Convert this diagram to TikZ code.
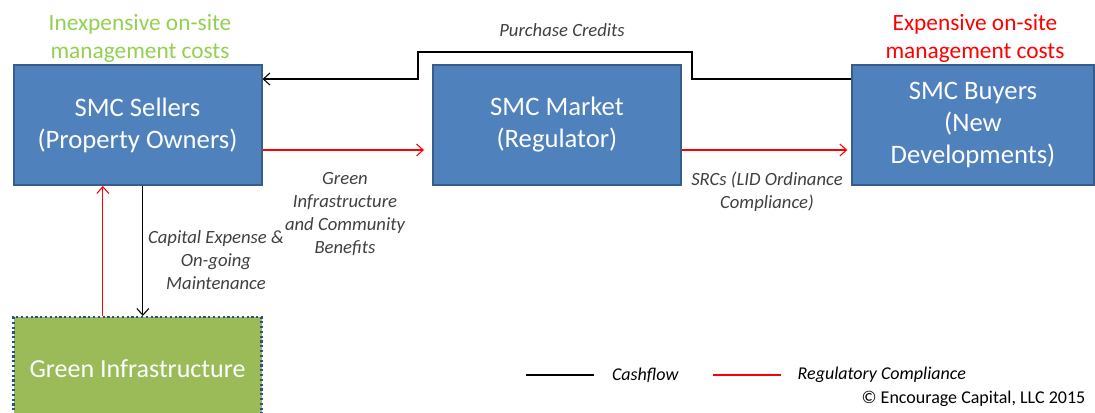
\documentclass[tikz,border=0pt]{standalone}
\usepackage{fontspec}
\setmainfont{Carlito}
\usepackage{tikz}
\usetikzlibrary{arrows,arrows.meta,shapes,positioning}

\definecolor{boxblue}{HTML}{4F81BD}
\definecolor{boxedge}{HTML}{385D8A}
\definecolor{gifill}{HTML}{9BBB59}
\definecolor{giedge}{HTML}{2E4F8C}
\definecolor{cheap}{HTML}{92D050}
\definecolor{labgray}{HTML}{404040}

\begin{document}
\begin{tikzpicture}[x=0.75pt, y=-0.75pt, node distance=2cm, auto]

\tikzstyle{block} = [rectangle, draw=boxedge, line width=1.5pt, fill=boxblue,
    text=white, align=center, minimum width=186pt, minimum height=90pt,
    font=\fontsize{20}{24}\selectfont]
\tikzstyle{gibox} = [rectangle, draw=giedge, line width=1.6pt, dotted, fill=gifill,
    text=white, minimum width=186pt, minimum height=78pt,
    font=\fontsize{19.5}{24}\selectfont]
\tikzstyle{note} = [align=center, text=labgray, font=\fontsize{14}{17.25}\selectfont\itshape]
\tikzstyle{head} = [align=center, font=\fontsize{17.5}{21}\selectfont]
\tikzstyle{cash} = [draw, black, line width=0.8pt, -{Straight Barb[length=5pt,width=9pt]}]
\tikzstyle{rule} = [draw, red, line width=0.8pt, -{Straight Barb[length=5pt,width=9pt]}]

\useasboundingbox (0,0) rectangle (1095,413);

    % Place nodes
    \node [block] (sellers) at (137.5,125) {SMC Sellers\\(Property Owners)};
    \node [block, right of=sellers, node distance=314.6pt] (market) {SMC Market\\(Regulator)};
    \node [block, right of=market, node distance=312pt, minimum width=181pt] (buyers) {SMC Buyers\\(New\\Developments)};
    \node [gibox] (gi) at (137.5,369) {Green Infrastructure};
    \node [head, text=cheap] (cheaplab) at (140,38) {Inexpensive on-site\\management costs};
    \node [head, text=red] (dearlab) at (975,38) {Expensive on-site\\management costs};
    \node [note] (credits) at (562,30) {Purchase Credits};
    \node [note] (benefits) at (345,214) {Green\\Infrastructure\\and Community\\Benefits};
    \node [note] (srcs) at (767,192) {SRCs (LID Ordinance\\Compliance)};
    \node [note] (capex) at (216,260) {Capital Expense \&\\On-going\\Maintenance};
    \coordinate (up1) at (692,52);
    \coordinate (up2) at (418,52);

    % Draw edges
    \path [cash] ([yshift=-11.25pt]buyers.north west) -| (up1) -| (up2)
        |- ([yshift=-11.25pt]sellers.north east);
    \path [rule, shorten >=6pt] ([yshift=-18.75pt]sellers.east) -- ([yshift=-18.75pt]market.west);
    \path [rule, shorten >=3pt] ([yshift=-18.75pt]market.east) -- ([yshift=-18.75pt]buyers.west);
    \path [cash] ([xshift=4pt]sellers.south) -- ([xshift=4pt]gi.north);
    \path [rule] ([xshift=-26pt]gi.north) -- ([xshift=-26pt]sellers.south);

    % Legend
    \coordinate (k1) at (526,375);
    \coordinate (k2) at (594,375);
    \coordinate (k3) at (713,375);
    \coordinate (k4) at (781,375);
    \draw [black, line width=0.8pt] (k1) -- (k2);
    \draw [red, line width=0.8pt] (k3) -- (k4);
    \node [font=\fontsize{13.5}{16}\selectfont\itshape, right=10pt of k2] (cashlab) {Cashflow};
    \node [font=\fontsize{13.5}{16}\selectfont\itshape, right=9pt of k4] (rulelab) {Regulatory Compliance};
    \node [font=\fontsize{13.5}{16}\selectfont, anchor=east] (copy) at (1090,399) {© Encourage Capital, LLC 2015};
\end{tikzpicture}
\end{document}
